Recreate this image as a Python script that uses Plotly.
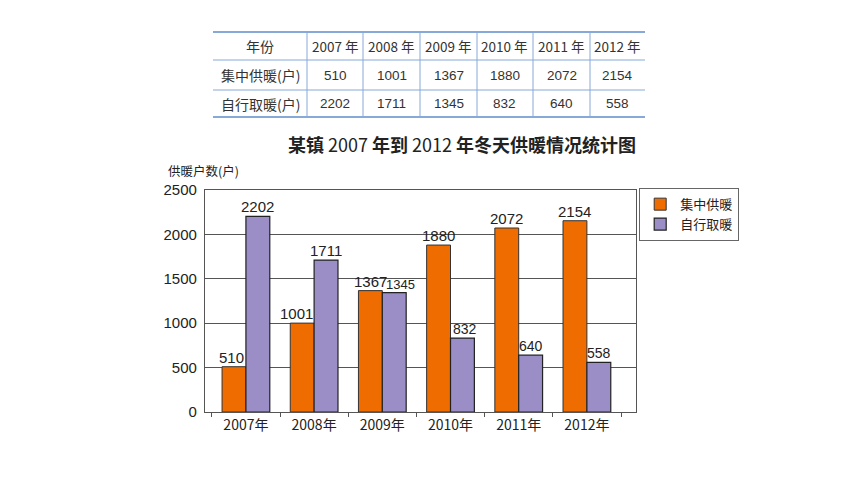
import plotly.graph_objects as go

W, H = 860, 484
OFF = 8  # page body margin

years = ["2007", "2008", "2009", "2010", "2011", "2012"]
year_labels = [y + "年" for y in years]
central = [510, 1001, 1367, 1880, 2072, 2154]
self_heat = [2202, 1711, 1345, 832, 640, 558]
series_names = ["集中供暖", "自行取暖"]
table_row_names = ["年份", "集中供暖(户)", "自行取暖(户)"]

ORANGE = "#EE6C00"
PURPLE = "#9B8DC6"
GRID = "#555555"
TBL_LINE = "#86A9D8"
CJK = "Noto Sans CJK SC"
NUM = "Liberation Sans, Arial"


def px(x):
    return (x - OFF) / W


def py(y):
    return 1 - (y - OFF) / H


fig = go.Figure()

fig.add_trace(
    go.Bar(
        x=year_labels,
        y=central,
        name=series_names[0],
        marker=dict(color=ORANGE, line=dict(color="#333333", width=1)),
    )
)
fig.add_trace(
    go.Bar(
        x=year_labels,
        y=self_heat,
        name=series_names[1],
        marker=dict(color=PURPLE, line=dict(color="#222222", width=1.2)),
    )
)

annotations = []

# value labels above bars (drawn as annotations so they sit on top of bars)
label_nudge = {0: [-2, -6, 0, 0, 0, 0], 1: [0, 0, 6, 2, 0, 0]}
label_size = {0: [15, 15, 15, 15, 15, 15], 1: [15, 15, 13, 14, 14, 14]}
for s, vals in enumerate([central, self_heat]):
    base = -12 if s == 0 else 12
    for i, v in enumerate(vals):
        annotations.append(
            dict(
                x=year_labels[i], y=v, xref="x", yref="y",
                text=str(v), showarrow=False,
                xanchor="center", yanchor="bottom",
                xshift=base + label_nudge[s][i], yshift=-1,
                font=dict(family=NUM, size=label_size[s][i], color="#222"),
            )
        )

# --- table on top ---
col_edges = [213, 307, 363, 420, 477, 533, 590, 645]
row_edges = [32, 60, 90, 117]
shapes = []
for i, y in enumerate(row_edges):
    thick = i in (0, len(row_edges) - 1)
    shapes.append(
        dict(
            type="line", xref="paper", yref="paper",
            x0=px(col_edges[0]), x1=px(col_edges[-1]), y0=py(y), y1=py(y),
            line=dict(color=TBL_LINE, width=2.2 if thick else 1),
        )
    )
for x in col_edges[1:-1]:
    shapes.append(
        dict(
            type="line", xref="paper", yref="paper",
            x0=px(x), x1=px(x), y0=py(row_edges[0]), y1=py(row_edges[-1]),
            line=dict(color=TBL_LINE, width=1),
        )
    )

table_rows = [
    [y + " 年" for y in years],
    [str(v) for v in central],
    [str(v) for v in self_heat],
]
for r in range(3):
    yc = (row_edges[r] + row_edges[r + 1]) / 2
    annotations.append(
        dict(
            x=px((col_edges[0] + col_edges[1]) / 2), y=py(yc),
            xanchor="center", yanchor="middle",
            xref="paper", yref="paper", text=table_row_names[r], showarrow=False,
            font=dict(family=CJK, size=14, color="#333"),
        )
    )
    for c, val in enumerate(table_rows[r]):
        annotations.append(
            dict(
                x=px((col_edges[c + 1] + col_edges[c + 2]) / 2), y=py(yc),
                xanchor="center", yanchor="middle",
                xref="paper", yref="paper", text=val, showarrow=False,
                font=dict(family=CJK if r == 0 else NUM, size=13.5, color="#333"),
            )
        )

annotations.append(
    dict(
        x=px(462), y=py(144), xanchor="center", yanchor="middle",
        xref="paper", yref="paper",
        text="<b>某镇</b> 2007 <b>年到</b> 2012 <b>年冬天供暖情况统计图</b>",
        showarrow=False, font=dict(family=CJK, size=18, color="#222"),
    )
)
annotations.append(
    dict(
        x=px(166), y=py(170), xanchor="left", yanchor="middle",
        xref="paper", yref="paper",
        text="供暖户数(户)", showarrow=False,
        font=dict(family=CJK, size=12.5, color="#222"),
    )
)

fig.update_layout(
    width=W,
    height=H,
    margin=dict(l=0, r=0, t=0, b=0, autoexpand=False),
    paper_bgcolor="white",
    plot_bgcolor="white",
    barmode="group",
    bargap=0.3,
    bargroupgap=0,
    showlegend=True,
    legend=dict(
        x=px(639), y=py(188), xanchor="left", yanchor="top",
        bordercolor="#666", borderwidth=1.2,
        font=dict(family=CJK, size=13, color="#222"),
        itemwidth=30, tracegroupgap=4,
    ),
    xaxis=dict(
        domain=[px(205), px(636)],
        range=[-0.6, 5.72],
        automargin=False,
        showline=True, linecolor=GRID, linewidth=1.2, mirror=True,
        ticks="outside", ticklen=4, tickcolor=GRID,
        tickson="boundaries",
        tickfont=dict(family=CJK, size=14, color="#222"),
        fixedrange=True,
    ),
    yaxis=dict(
        domain=[py(412), py(190)],
        range=[0, 2500],
        dtick=500,
        automargin=False,
        showgrid=True, gridcolor=GRID, gridwidth=1,
        showline=True, linecolor=GRID, linewidth=1.2, mirror=True,
        zeroline=False,
        tickfont=dict(family=NUM, size=15, color="#222"),
        ticks="", ticklabelstandoff=4,
    ),
    shapes=shapes,
    annotations=annotations,
)

fig.write_html("out.html")
